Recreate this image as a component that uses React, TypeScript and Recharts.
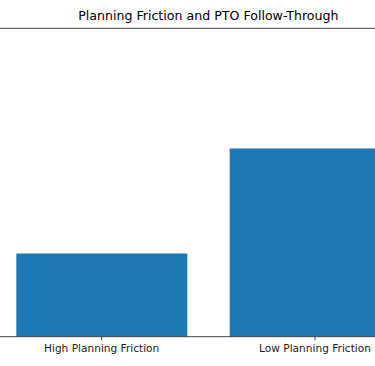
import { BarChart, Bar, XAxis, YAxis } from 'recharts';

// categories and follow-through rates (y axis runs 0..1, cropped out of view)
const groups = ['High Planning Friction', 'Low Planning Friction'];
const followThrough = [0.27, 0.61];

const data = groups.map((g, i) => ({ group: g, rate: followThrough[i] }));

const W = 375;
const H = 366;
const PLOT_LEFT = -5; // axes start just off-screen, like the cropped reference
const PLOT_W = 426.7;

export default function App() {
  return (
    <div
      style={{
        position: 'absolute',
        left: 0,
        top: 0,
        width: W,
        height: H,
        overflow: 'hidden',
        background: '#fff',
        fontFamily: '"DejaVu Sans", sans-serif',
      }}
    >
      <div
        style={{
          position: 'absolute',
          left: PLOT_LEFT,
          width: PLOT_W,
          top: 8,
          textAlign: 'center',
          fontSize: 12.6,
          color: '#000',
          lineHeight: '16px',
        }}
      >
        Planning Friction and PTO Follow-Through
      </div>
      <BarChart
        width={PLOT_W}
        height={H}
        data={data}
        margin={{ top: 0, right: 0, bottom: 0, left: 0 }}
        barCategoryGap="10%"
        style={{ position: 'absolute', left: PLOT_LEFT, top: 0 }}
      >
        <XAxis
          xAxisId="top"
          orientation="top"
          dataKey="group"
          height={28.3}
          tick={false}
          tickLine={false}
          axisLine={{ stroke: '#444', strokeWidth: 1 }}
        />
        <XAxis
          dataKey="group"
          height={29.3}
          tickSize={3.5}
          tickMargin={4.5}
          tickLine={{ stroke: '#444' }}
          axisLine={{ stroke: '#444', strokeWidth: 1 }}
          tick={{ fill: '#222', fontSize: 10.6, fontFamily: '"DejaVu Sans", sans-serif' }}
          interval={0}
        />
        <YAxis hide domain={[0, 1]} />
        <Bar dataKey="rate" fill="#1f77b4" isAnimationActive={false} />
      </BarChart>
    </div>
  );
}
